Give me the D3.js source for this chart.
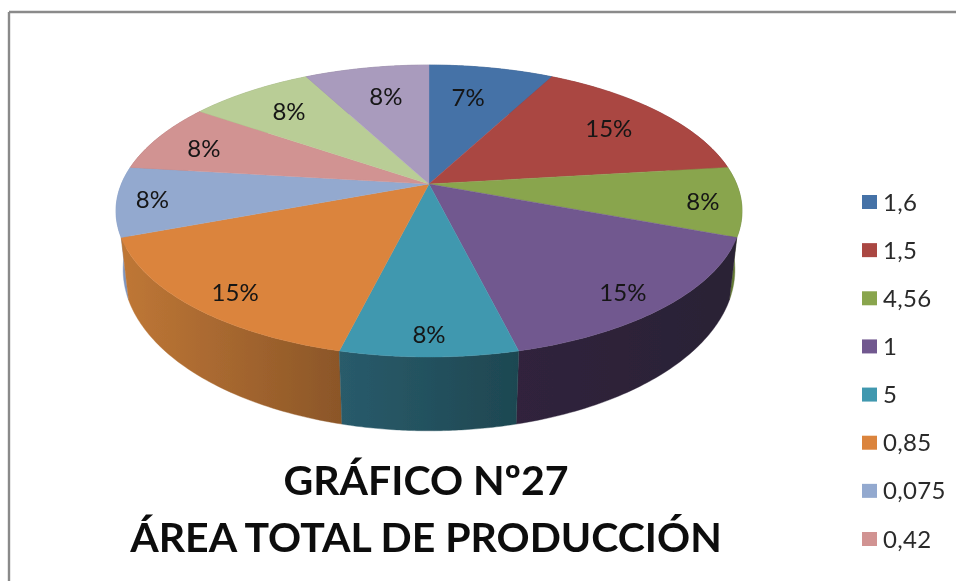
<!DOCTYPE html>
<html lang="es">
<head>
<meta charset="utf-8">
<title>Gráfico Nº27</title>
<script src="https://cdn.jsdelivr.net/npm/d3@7/dist/d3.min.js"></script>
<style>
html,body{margin:0;padding:0;background:#fff;overflow:hidden}
svg{display:block}
text{font-family:Lato,"Open Sans",sans-serif;fill:#141414}
</style>
</head>
<body>
<svg id="chart" width="956" height="581" viewBox="0 0 956 581"></svg>
<script>
// Data
const titleLines = ["GRÁFICO Nº27", "ÁREA TOTAL DE PRODUCCIÓN"];
const legendLabels = ["1,6", "1,5", "4,56", "1", "5", "0,85", "0,075", "0,42"];
const sliceShares = [7.7, 15.4, 7.7, 15.4, 7.7, 15.4, 7.7, 7.7, 7.7, 7.7];
const sliceLabels = ["7%", "15%", "8%", "15%", "8%", "15%", "8%", "8%", "8%", "8%"];

// Styles
const topColors = ["#4572A7","#AA4643","#89A54E","#71588F","#4198AF","#DB843D","#93A9CF","#D19392","#B9CD96","#A99BBD"];
const wallFrom  = ["#345680","#803432","#6A8038","#30243C","#295B6B","#BF7736","#7F96BF","#A87573","#93A576","#85798F"];
const wallTo    = ["#345680","#803432","#5E7332","#2A2035","#1E4751","#8B5628","#7F96BF","#A87573","#93A576","#85798F"];
const labelReach = [0.711,0.763,0.879,0.869,0.889,0.869,0.888,0.813,0.762,0.723];
const labelTurn  = [-2.2,0.4,0.8,2.1,0,-2.1,0,-1.6,0.2,1.2];

// Perspective discs: unit circle -> screen
const cx = 429;
const topDisc  = {cy:184, a:307.6, b:141, tilt:0.185};
const baseDisc = {cy:241, a:301,   b:156, tilt:0.178};

function project(angle, reach, disc){
  const u = Math.sin(angle)*reach, v = -Math.cos(angle)*reach;
  const w = 1 - disc.tilt*v;
  return [cx + disc.a*u/w, disc.cy + disc.b*v/w];
}
function arcPoints(a0, a1, disc){
  return d3.range(0, 61).map(i => project(a0 + (a1-a0)*i/60, 1, disc));
}

const svg = d3.select("#chart");
const defs = svg.append("defs");
defs.append("filter").attr("id","soft").attr("x","-5%").attr("y","-5%").attr("width","110%").attr("height","110%")
  .append("feGaussianBlur").attr("stdDeviation",0.45);

// Frame
const frame = svg.append("g").attr("stroke","#8a8a8a").attr("stroke-width",2.4);
frame.append("line").attr("x1",9).attr("y1",12).attr("x2",956).attr("y2",12);
frame.append("line").attr("x1",9).attr("y1",12).attr("x2",9).attr("y2",581);

const slices = d3.pie().sort(null).value(d => d).startAngle(0).endAngle(2*Math.PI)(sliceShares);
const outline = d3.line().curve(d3.curveLinear);

slices.forEach((s,i) => {
  const top = arcPoints(s.startAngle, s.endAngle, topDisc);
  const bottom = arcPoints(s.startAngle, s.endAngle, baseDisc);
  const xs = d3.extent(top.concat(bottom), p => p[0]);
  const g = defs.append("linearGradient").attr("id","wall"+i)
    .attr("gradientUnits","userSpaceOnUse")
    .attr("x1",xs[0]).attr("x2",xs[1]).attr("y1",0).attr("y2",0);
  g.append("stop").attr("offset",0).attr("stop-color",wallFrom[i]);
  g.append("stop").attr("offset",1).attr("stop-color",wallTo[i]);
  s.wall = top.concat(bottom.slice().reverse());
  s.top = [[cx,topDisc.cy]].concat(top);
});

const pie = svg.append("g").attr("filter","url(#soft)");

// Walls: sides first, then the front ones
const wallOrder = [0,1,9,8,7,2,6,3,5,4];
pie.append("g").selectAll("path").data(wallOrder).join("path")
  .attr("d", i => outline(slices[i].wall)+"Z")
  .attr("fill", i => `url(#wall${i})`)
  .attr("stroke", i => `url(#wall${i})`).attr("stroke-width",0.4);

pie.append("g").selectAll("path").data(slices).join("path")
  .attr("d", d => outline(d.top)+"Z")
  .attr("fill", (d,i) => topColors[i])
  .attr("stroke", (d,i) => topColors[i]).attr("stroke-width",0.4);

// Data labels
svg.append("g").attr("filter","url(#soft)").selectAll("text").data(slices).join("text")
  .attr("x", (d,i) => project((d.startAngle+d.endAngle)/2 + labelTurn[i]*Math.PI/180, labelReach[i], topDisc)[0])
  .attr("y", (d,i) => project((d.startAngle+d.endAngle)/2 + labelTurn[i]*Math.PI/180, labelReach[i], topDisc)[1])
  .attr("dy","0.36em").attr("text-anchor","middle")
  .attr("font-size",24)
  .text((d,i) => sliceLabels[i]);

// Legend
const legendY = d3.scalePoint().domain(legendLabels).range([202,539]);
const legend = svg.append("g").attr("filter","url(#soft)").selectAll("g").data(legendLabels).join("g")
  .attr("transform", d => `translate(862,${legendY(d)})`);
legend.append("rect").attr("x",0).attr("y",-7).attr("width",15).attr("height",14)
  .attr("fill",(d,i) => topColors[i]);
legend.append("text").attr("x",21).attr("dy","0.36em").attr("font-size",24).attr("letter-spacing",0.3).style("fill","#2a2a2a").text(d => d);

// Title
svg.append("g").attr("filter","url(#soft)").selectAll("text").data(titleLines).join("text")
  .attr("x",426).attr("y",(d,i) => 495 + i*57)
  .attr("text-anchor","middle").attr("font-size",41).attr("font-weight",700)
  .style("fill","#0d0d0d")
  .text(d => d);
</script>
</body>
</html>
